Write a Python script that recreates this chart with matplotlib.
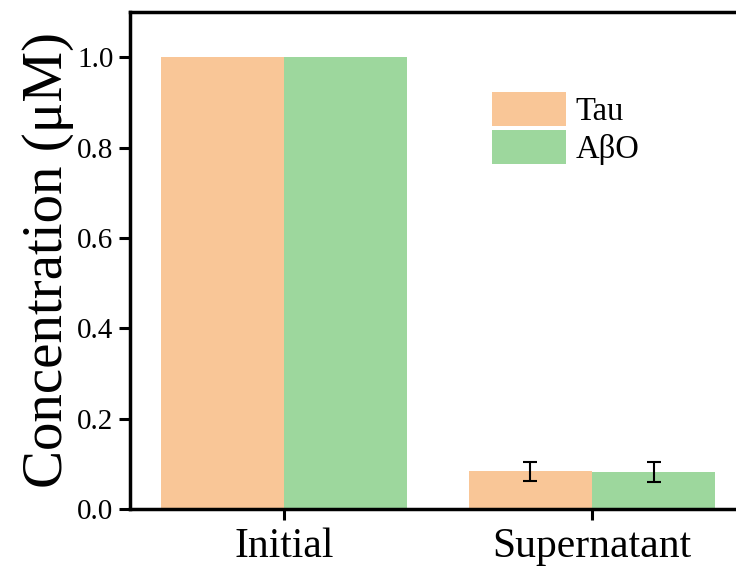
import numpy as np
import matplotlib
matplotlib.use("Agg")
import matplotlib.pyplot as plt

plt.rcParams["font.family"] = ["Liberation Serif", "DejaVu Serif"]

categories = ["Initial", "Supernatant"]
series_names = ["Tau", "A\u03b2O"]
tau_values = [1.0, 0.084]
tau_errors = [0.0, 0.021]
abo_values = [1.0, 0.082]
abo_errors = [0.0, 0.022]
colors = ["#F9C697", "#9DD79D"]

fig = plt.figure(figsize=(7.36, 5.69), dpi=100)
ax = fig.add_axes([130 / 736, 60 / 569, 616 / 736, 497 / 569])

x = np.arange(len(categories))
width = 0.4
ax.bar(x - width / 2, tau_values, width, color=colors[0], label=series_names[0])
ax.bar(x + width / 2, abo_values, width, color=colors[1], label=series_names[1])

# error bars only where there is a spread
for xs, vals, errs in [(x - width / 2, tau_values, tau_errors), (x + width / 2, abo_values, abo_errors)]:
    for xi, v, e in zip(xs, vals, errs):
        if e > 0:
            ax.errorbar(xi, v, yerr=e, fmt="none", ecolor="black", elinewidth=1.5, capsize=5, capthick=1.5)

ax.set_xlim(-0.5, 1.5)
ax.set_ylim(0, 1.1)
ax.set_xticks(x)
ax.set_xticklabels(categories, fontsize=30)
ax.set_yticks(np.arange(0, 1.01, 0.2))
ax.set_yticklabels([f"{v:.1f}" for v in np.arange(0, 1.01, 0.2)], fontsize=21)
ax.tick_params(axis="both", direction="out", length=8, width=2.2)
ax.tick_params(axis="x", pad=5)
ax.tick_params(axis="y", pad=4)
for s in ax.spines.values():
    s.set_linewidth(2.5)

ax.set_ylabel("Concentration (\u03bcM)", fontsize=41, labelpad=2)

ax.legend(loc="upper left", bbox_to_anchor=(0.588, 0.839), frameon=False, fontsize=23.5,
          handlelength=2.25, handleheight=1.22, labelspacing=0.1, handletextpad=0.3,
          borderaxespad=0, borderpad=0)

fig.savefig("out.png", dpi=100)
